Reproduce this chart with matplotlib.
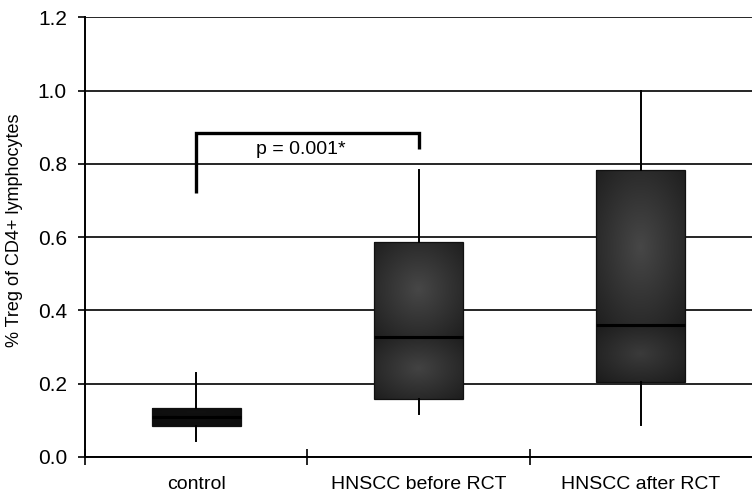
import numpy as np
import matplotlib
matplotlib.use("Agg")
import matplotlib.pyplot as plt
from matplotlib.colors import LinearSegmentedColormap

# ---- data ----
categories = ["control", "HNSCC before RCT", "HNSCC after RCT"]
whisker_low = [0.044, 0.117, 0.086]
q1 = [0.085, 0.158, 0.206]
median = [0.110, 0.327, 0.359]
q3 = [0.135, 0.588, 0.784]
whisker_high = [0.230, 0.782, 1.000]

y_ticks = [0.0, 0.2, 0.4, 0.6, 0.8, 1.0, 1.2]
y_label = "% Treg of CD4+ lymphocytes"

p_text = "p = 0.001*"
bracket_left_bottom = 0.72
bracket_top = 0.884
bracket_right_bottom = 0.84

plt.rcParams['font.family'] = ['Liberation Sans', 'DejaVu Sans']

fig = plt.figure(figsize=(7.52, 4.95), dpi=100)
ax = fig.add_axes([85/752, 1 - 457/495, (752 - 85)/752, (457 - 17.3)/495])
ax.set_xlim(0.5, 3.5)
ax.set_ylim(0, 1.2)

positions = np.arange(1, len(categories) + 1)
stats = []
for i, c in enumerate(categories):
    stats.append(dict(label=c, whislo=whisker_low[i], q1=q1[i], med=median[i],
                      q3=q3[i], whishi=whisker_high[i], fliers=[]))

box_w = 0.40
bp = ax.bxp(stats, positions=positions, widths=box_w, patch_artist=True,
            showfliers=False, showcaps=False,
            boxprops=dict(facecolor='none', edgecolor='#111111', linewidth=0.9),
            medianprops=dict(color='black', linewidth=2.2),
            whiskerprops=dict(color='black', linewidth=1.4),
            zorder=3)

# radial gradient fill, one per box segment (q1-median, median-q3)
cmap = LinearSegmentedColormap.from_list("g", ["#0a0a0a", "#474747"])
nx, ny = 80, 120
u = np.linspace(-1, 1, nx)
v = np.linspace(-1, 1, ny)
U, V = np.meshgrid(u, v)
R = np.sqrt(U**2 + V**2) / np.sqrt(2)
base = 1 - R  # 1 at center, 0 at corners
px_per_unit = (457 - 17.3) / 1.2
for i, patch in enumerate(bp['boxes']):
    x0 = positions[i] - box_w / 2
    x1 = positions[i] + box_w / 2
    for lo, hi in [(q1[i], median[i]), (median[i], q3[i])]:
        h_px = (hi - lo) * px_per_unit
        s = min(1.0, h_px / 65.0)
        img = 0.12 + 0.88 * (0.25 + 0.75 * base) * s
        img = img * (0.35 + 0.65 * s)
        im = ax.imshow(img, extent=[x0, x1, lo, hi], origin='lower', cmap=cmap,
                       vmin=0, vmax=1, aspect='auto', zorder=2.5,
                       interpolation='bilinear')
        im.set_clip_path(patch)

# significance bracket
ax.plot([positions[0], positions[0], positions[1], positions[1]],
        [bracket_left_bottom, bracket_top, bracket_top, bracket_right_bottom],
        color='black', linewidth=2.4, solid_capstyle='butt', solid_joinstyle='miter', zorder=4)
ax.text(1.27, 0.84, p_text, fontsize=14, ha='left', va='center', zorder=4)

ax.set_xlim(0.5, 3.5)
ax.set_ylim(0, 1.2)
ax.set_yticks(y_ticks)
ax.set_yticklabels([f"{t:.1f}" for t in y_ticks], fontsize=15)
ax.yaxis.grid(True, color='black', linewidth=1.2)
ax.set_axisbelow(True)

ax.set_xticks([0.5, 1.5, 2.5])
ax.set_xticklabels([])
ax.set_xticks(positions, minor=True)
ax.set_xticklabels(categories, minor=True, fontsize=14)
ax.tick_params(axis='x', which='minor', length=0, pad=14)
ax.tick_params(axis='x', which='major', direction='inout', length=12, width=1.2)
ax.tick_params(axis='y', direction='out', length=5, width=1.2, pad=8)

ax.set_ylabel(y_label, fontsize=13)
ax.yaxis.set_label_coords(-0.093, 0.516)

for s in ['top', 'right']:
    ax.spines[s].set_visible(False)
for s in ['left', 'bottom']:
    ax.spines[s].set_linewidth(1.4)
    ax.spines[s].set_color('black')

fig.savefig("out.png", dpi=100)
